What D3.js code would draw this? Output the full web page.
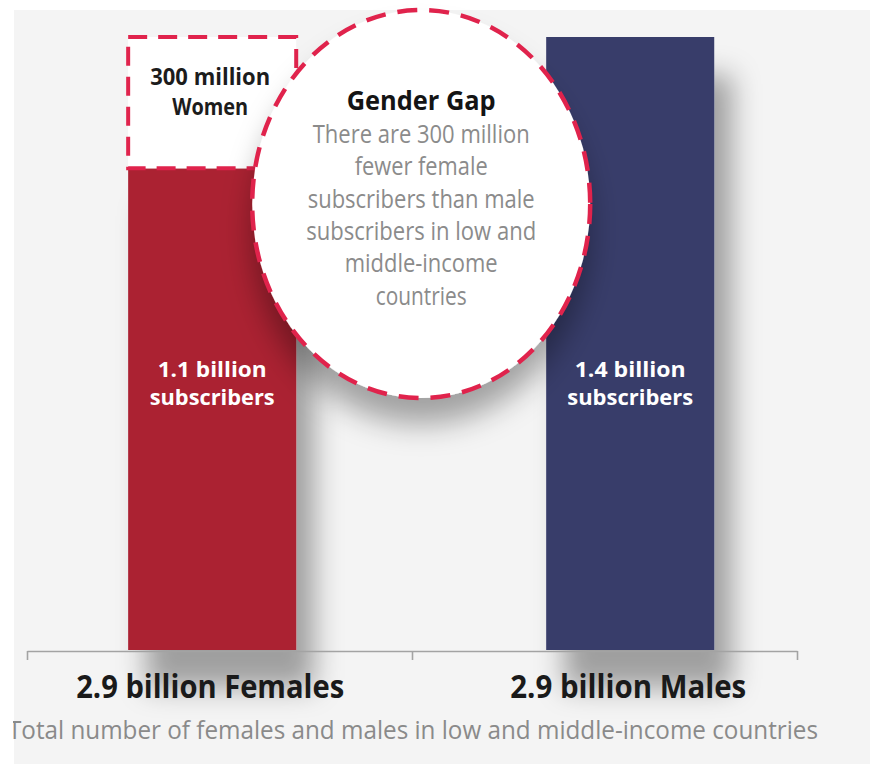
<!DOCTYPE html>
<html>
<head>
<meta charset="utf-8">
<script src="https://cdn.jsdelivr.net/npm/d3@7"></script>
<style>
  html, body { margin: 0; padding: 0; background: #ffffff; }
  svg { display: block; }
  text { font-family: "Open Sans", "Noto Sans", sans-serif; }
</style>
</head>
<body>
<svg id="chart" width="870" height="764"></svg>
<script>
// Mobile subscribers vs. population in low and middle-income countries (billions)
const categories = ["Females", "Males"];
const populationBn = [2.9, 2.9];
const subscribersBn = [1.1, 1.4];
const gapBn = 0.3;
const gapLabel = ["300 million", "Women"];
const gapTitle = "Gender Gap";
const gapLines = [
  "There are 300 million",
  "fewer female",
  "subscribers than male",
  "subscribers in low and",
  "middle-income",
  "countries"
];
const axisCaption = "Total number of females and males in low and middle-income countries";

const svg = d3.select("#chart");
const W = 870, H = 764;

const RED = "#ab2231", NAVY = "#383c6b", DASH = "#e0234c";

// Panel background
svg.append("rect").attr("width", W).attr("height", H).attr("fill", "#ffffff");
svg.append("rect").attr("x", 14).attr("y", 10).attr("width", W - 14).attr("height", H - 10).attr("fill", "#f4f4f4");

// Soft drop shadows
const defs = svg.append("defs");
const fBar = defs.append("filter").attr("id", "barShadow")
  .attr("x", "-40%").attr("y", "-20%").attr("width", "200%").attr("height", "160%");
fBar.append("feDropShadow").attr("dx", 18).attr("dy", 38).attr("stdDeviation", 14)
  .attr("flood-color", "#000").attr("flood-opacity", 0.35);
const fCirc = defs.append("filter").attr("id", "circShadow")
  .attr("x", "-30%").attr("y", "-30%").attr("width", "160%").attr("height", "170%");
fCirc.append("feDropShadow").attr("dx", 0).attr("dy", 26).attr("stdDeviation", 15)
  .attr("flood-color", "#000").attr("flood-opacity", 0.34);

// Scales
const x = d3.scaleBand().domain(categories).range([27, 797])
  .paddingInner(0.598).paddingOuter(0.22).align(0.55);
const y = d3.scaleLinear().domain([0, d3.max(subscribersBn)]).range([650, 37]);
const axisScale = d3.scaleLinear().domain([0, categories.length]).range(x.range());

const data = categories.map((c, i) => ({ cat: c, pop: populationBn[i], subs: subscribersBn[i] }));
const fills = [RED, NAVY];

// Bars
svg.append("g").selectAll("rect").data(data).join("rect")
  .attr("x", d => x(d.cat))
  .attr("y", d => y(d.subs))
  .attr("width", x.bandwidth())
  .attr("height", d => y(0) - y(d.subs))
  .attr("fill", (d, i) => fills[i])
  .attr("filter", "url(#barShadow)");

// Baseline axis
const axisG = svg.append("g").attr("transform", "translate(0,651)")
  .call(d3.axisBottom(axisScale).tickValues(d3.range(categories.length + 1))
    .tickSize(9).tickSizeOuter(0).tickFormat(""));
axisG.select(".domain").attr("stroke", "#a3a3a3").attr("stroke-width", 1.6);
axisG.selectAll(".tick line").attr("stroke", "#a3a3a3").attr("stroke-width", 1.6);

// Missing female subscribers (dashed block on top of the female bar)
const fem = data[0];
svg.append("rect")
  .attr("x", x(fem.cat))
  .attr("y", y(fem.subs + gapBn))
  .attr("width", x.bandwidth())
  .attr("height", y(fem.subs) - y(fem.subs + gapBn))
  .attr("fill", "#ffffff")
  .attr("stroke", DASH).attr("stroke-width", 4)
  .attr("stroke-dasharray", "19 11");

const femCx = x(fem.cat) + x.bandwidth() / 2;
const gapText = svg.append("g").attr("font-weight", 700).attr("fill", "#1c1c1c")
  .attr("text-anchor", "middle").attr("font-size", 23);
const gapWidths = [120, 76];
gapLabel.forEach((t, i) => {
  gapText.append("text").attr("x", femCx - 2).attr("y", 85 + i * 30)
    .attr("textLength", gapWidths[i]).attr("lengthAdjust", "spacingAndGlyphs").text(t);
});

// Gender gap callout
const cx = (x(categories[0]) + x(categories[1])) / 2 + x.bandwidth() / 2;
svg.append("ellipse")
  .attr("cx", cx).attr("cy", 204).attr("rx", 169).attr("ry", 194)
  .attr("fill", "#ffffff")
  .attr("filter", "url(#circShadow)");
svg.append("ellipse")
  .attr("cx", cx).attr("cy", 204).attr("rx", 169).attr("ry", 194)
  .attr("fill", "none")
  .attr("stroke", DASH).attr("stroke-width", 4.5)
  .attr("stroke-dasharray", "20 12");

svg.append("text").attr("x", cx).attr("y", 110).attr("text-anchor", "middle")
  .attr("font-size", 27).attr("font-weight", 700).attr("fill", "#141414")
  .attr("textLength", 149).attr("lengthAdjust", "spacingAndGlyphs").text(gapTitle);

const lineWidths = [217, 133, 227, 230, 153, 91];
svg.append("g").attr("fill", "#8b8b8b").attr("font-size", 25).attr("text-anchor", "middle")
  .selectAll("text").data(gapLines).join("text")
  .attr("x", cx).attr("y", (d, i) => 143 + i * 32.3)
  .attr("textLength", (d, i) => lineWidths[i]).attr("lengthAdjust", "spacingAndGlyphs")
  .text(d => d);

// Subscriber labels inside bars
const fmtBn = d3.format(".1f");
const subW = [[109, 125], [111, 126]];
data.forEach((d, i) => {
  const g = svg.append("g").attr("fill", "#ffffff").attr("font-weight", 700)
    .attr("font-size", 22).attr("text-anchor", "middle");
  const bx = x(d.cat) + x.bandwidth() / 2;
  g.append("text").attr("x", bx).attr("y", 377)
    .attr("textLength", subW[i][0]).attr("lengthAdjust", "spacingAndGlyphs")
    .text(`${fmtBn(d.subs)} billion`);
  g.append("text").attr("x", bx).attr("y", 405)
    .attr("textLength", subW[i][1]).attr("lengthAdjust", "spacingAndGlyphs")
    .text("subscribers");
});

// Category labels under the axis
const catW = [268, 236];
svg.append("g").attr("font-weight", 700).attr("font-size", 32).attr("fill", "#1a1a1a")
  .attr("text-anchor", "middle")
  .selectAll("text").data(data).join("text")
  .attr("x", d => x(d.cat) + x.bandwidth() / 2 - 2)
  .attr("y", 698)
  .attr("textLength", (d, i) => catW[i]).attr("lengthAdjust", "spacingAndGlyphs")
  .text(d => `${fmtBn(d.pop)} billion ${d.cat}`);

// Axis caption
svg.append("text").attr("x", 8).attr("y", 739)
  .attr("font-size", 25).attr("fill", "#8a8a8a")
  .attr("textLength", 810).attr("lengthAdjust", "spacingAndGlyphs")
  .text(axisCaption);

// Left margin strip
svg.append("rect").attr("x", 0).attr("y", 0).attr("width", 13).attr("height", H).attr("fill", "#ffffff");
</script>
</body>
</html>
